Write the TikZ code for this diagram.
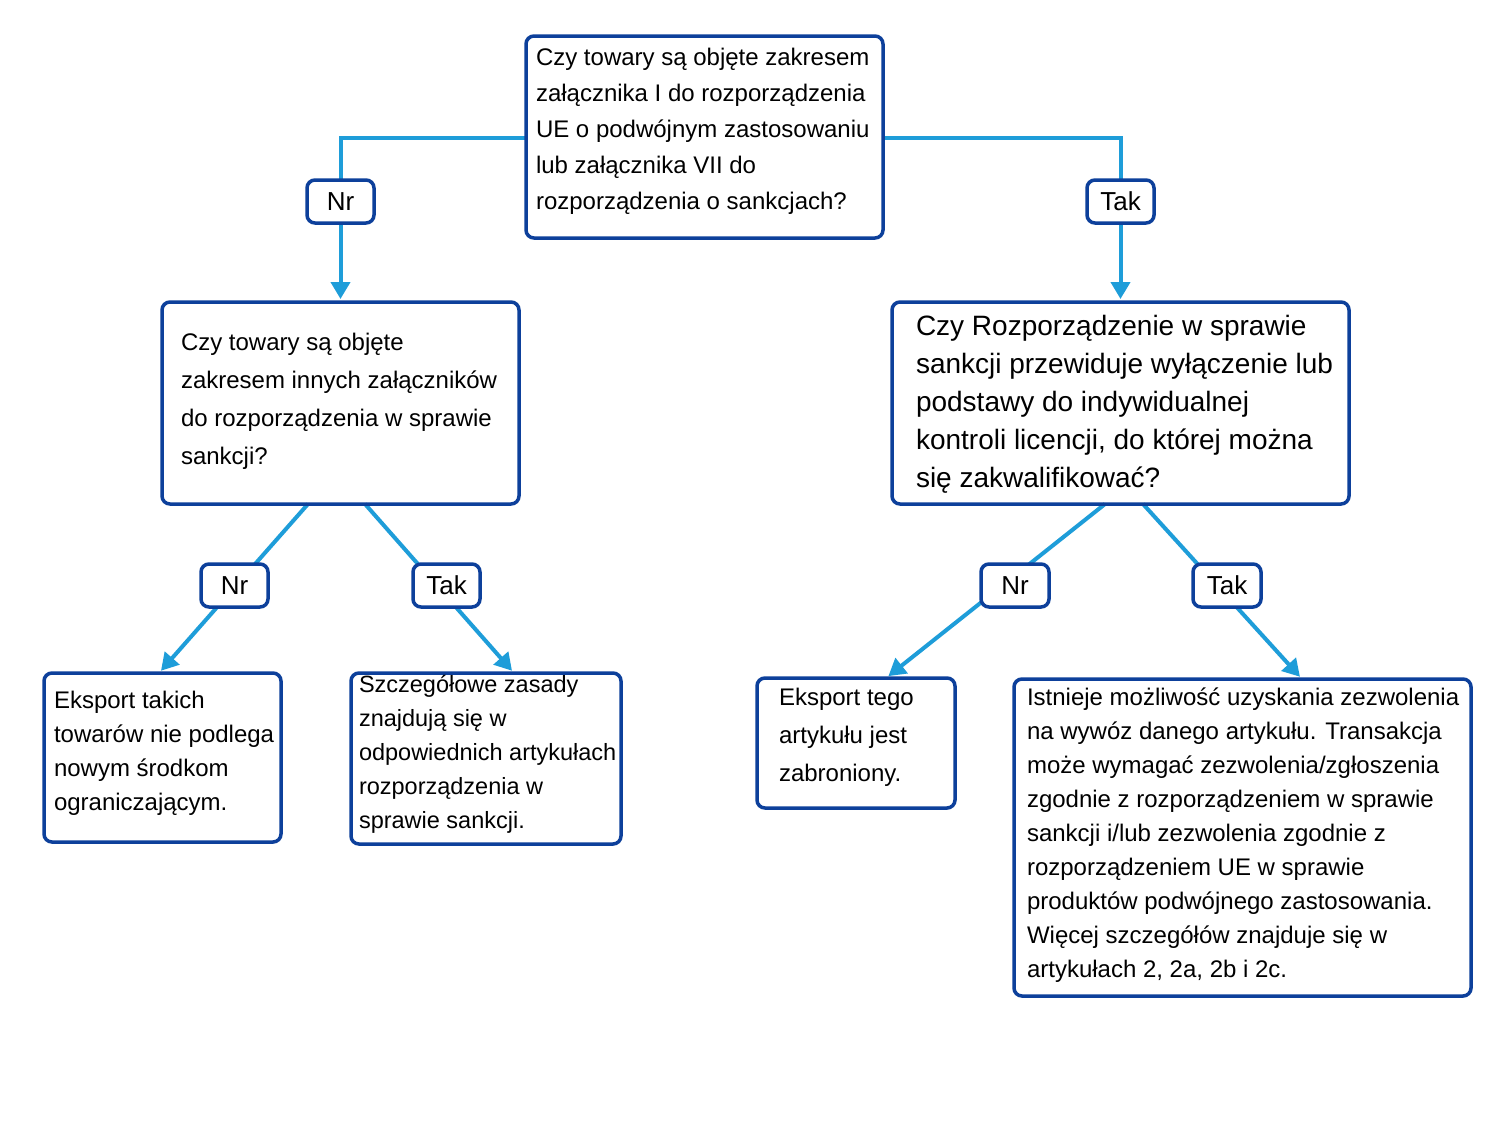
\documentclass[tikz,border=0pt]{standalone}
\usepackage{fontspec}
\setmainfont{Liberation Sans}
\usetikzlibrary{arrows.meta}
\pgfdeclarelayer{bg}
\pgfdeclarelayer{paper}
\pgfsetlayers{paper,bg,main}
\definecolor{boxblue}{RGB}{13,64,155}
\definecolor{linkblue}{RGB}{30,157,217}
\tikzset{
  box/.style={draw=boxblue, line width=3.5pt, rounded corners=8pt, rectangle, anchor=north west, inner sep=0pt, outer sep=0pt},
  lbl/.style={box, fill=white, font=\fontsize{26}{30}\selectfont},
  conn/.style={draw=linkblue, line width=4pt},
  arr/.style={conn, -{Triangle[length=17pt,width=19pt]}, shorten >=3pt},
  txt/.style={anchor=north west, inner sep=0pt, outer sep=0pt, align=left, font=\fontsize{24}{#1}\selectfont},
  bigtxt/.style={anchor=north west, inner sep=0pt, outer sep=0pt, align=left, font=\fontsize{28}{38}\selectfont}
}
\begin{document}
\begin{tikzpicture}[x=1pt,y=-1pt]
\begin{pgfonlayer}{paper}
\fill[white] (0,0) rectangle (1511,1120);
\end{pgfonlayer}
\useasboundingbox (0,0) rectangle (1511,1120);
% boxes
\node[box, minimum width=357pt, minimum height=202pt] (top) at (526,36) {};
\node[box, minimum width=357pt, minimum height=202pt] (lmid) at (162,302) {};
\node[box, minimum width=457pt, minimum height=202pt] (rmid) at (892,302) {};
\node[box, minimum width=237pt, minimum height=169pt] (b1) at (44,673) {};
\node[box, minimum width=270pt, minimum height=171pt] (b2) at (351,673) {};
\node[box, minimum width=198pt, minimum height=130pt] (b3) at (757,678) {};
\node[box, minimum width=457pt, minimum height=317pt] (b4) at (1014,679) {};
% labels
\node[lbl, minimum width=67pt, minimum height=43pt] (nr1) at (307,180) {Nr};
\node[lbl, minimum width=67pt, minimum height=43pt] (tak1) at (1087,180) {Tak};
\node[lbl, minimum width=67pt, minimum height=43pt] (nr2) at (201,564) {Nr};
\node[lbl, minimum width=67pt, minimum height=43pt] (tak2) at (413,564) {Tak};
\node[lbl, minimum width=68pt, minimum height=43pt] (nr3) at (981,564) {Nr};
\node[lbl, minimum width=68pt, minimum height=43pt] (tak3) at (1193,564) {Tak};
% texts
\node[txt=36pt] (ttop) at (536,45) {\rule{0pt}{20pt}Czy towary są objęte zakresem\\załącznika I do rozporządzenia\\UE o podwójnym zastosowaniu\\lub załącznika VII do\\rozporządzenia o sankcjach?};
\node[txt=38pt] (tlmid) at (181,330) {\rule{0pt}{20pt}Czy towary są objęte\\zakresem innych załączników\\do rozporządzenia w sprawie\\sankcji?};
\node[bigtxt] (trmid) at (916,312) {\rule{0pt}{23pt}Czy Rozporządzenie w sprawie\\sankcji przewiduje wyłączenie lub\\podstawy do indywidualnej\\kontroli licencji, do której można\\się zakwalifikować?};
\node[txt=34pt] (tb1) at (54,688) {\rule{0pt}{20pt}Eksport takich\\towarów nie podlega\\nowym środkom\\ograniczającym.};
\node[anchor=north west, inner sep=0pt, outer sep=0pt, align=left, font=\fontsize{23.5}{34}\selectfont] (tb2) at (359,672) {\rule{0pt}{20pt}Szczegółowe zasady\\znajdują się w\\odpowiednich artykułach\\rozporządzenia w\\sprawie sankcji.};
\node[txt=38pt] (tb3) at (779,685) {\rule{0pt}{20pt}Eksport tego\\artykułu jest\\zabroniony.};
\node[txt=34pt] (tb4) at (1027,685) {\rule{0pt}{20pt}Istnieje możliwość uzyskania zezwolenia\\na wywóz danego artykułu. Transakcja\\może wymagać zezwolenia/zgłoszenia\\zgodnie z rozporządzeniem w sprawie\\sankcji i/lub zezwolenia zgodnie z\\rozporządzeniem UE w sprawie\\produktów podwójnego zastosowania.\\Więcej szczegółów znajduje się w\\artykułach 2, 2a, 2b i 2c.};
% connectors
\begin{pgfonlayer}{bg}
\draw[conn] ([yshift=-1pt]top.west) -| (nr1.north);
\draw[arr] (nr1.south) -- (nr1.south |- lmid.north);
\draw[conn] ([yshift=-1pt]top.east) -| (tak1.north);
\draw[arr] (tak1.south) -- (tak1.south |- rmid.north);
\draw[arr] ([xshift=146pt]lmid.south west) -- ([xshift=115pt]b1.north west);
\draw[arr] ([xshift=203pt]lmid.south west) -- ([xshift=163pt]b2.north west);
\draw[arr] ([xshift=213pt]rmid.south west) -- ([xshift=129pt]b3.north west);
\draw[arr] ([xshift=251pt]rmid.south west) -- ([xshift=288pt]b4.north west);
\end{pgfonlayer}
\end{tikzpicture}
\end{document}
